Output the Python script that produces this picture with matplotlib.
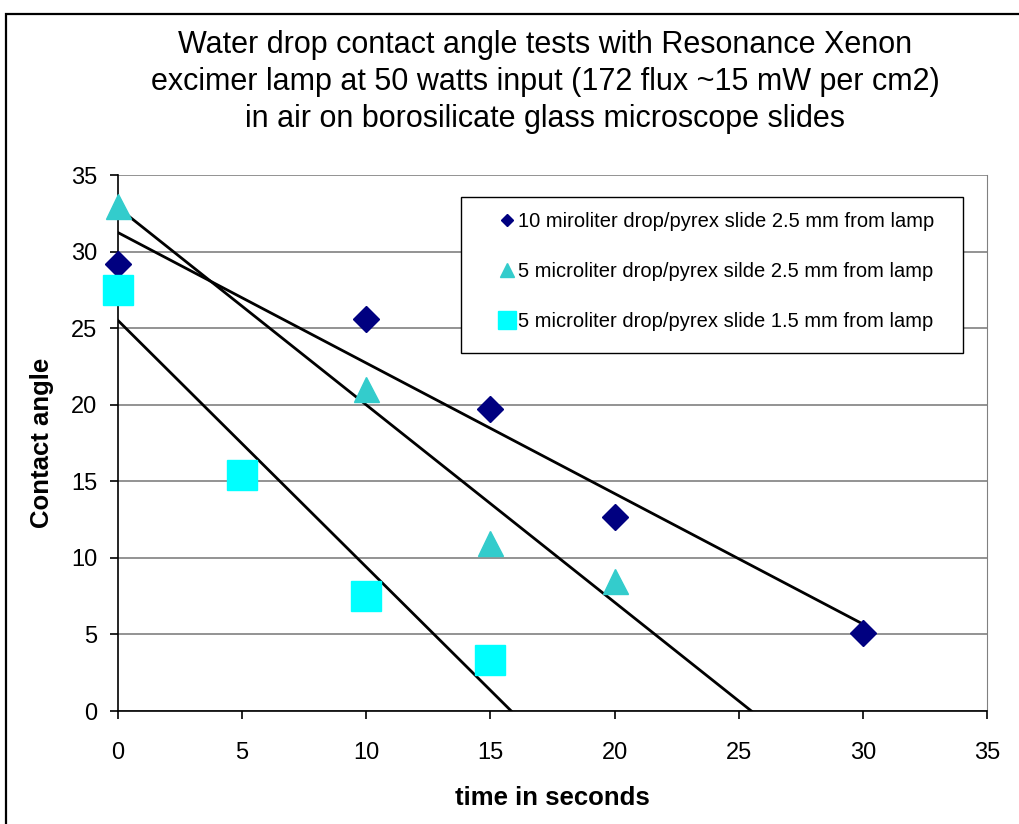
import matplotlib
matplotlib.use("Agg")
import matplotlib.pyplot as plt
from matplotlib.lines import Line2D
from matplotlib.patches import Rectangle
import numpy as np

plt.rcParams["font.family"] = ["Liberation Sans", "DejaVu Sans"]

# ---- data ----
t_10ul_25 = [0, 10, 15, 20, 30]
ang_10ul_25 = [29.2, 25.6, 19.7, 12.7, 5.1]
t_5ul_25 = [0, 10, 15, 20]
ang_5ul_25 = [33.0, 21.0, 11.0, 8.5]
t_5ul_15 = [0, 5, 10, 15]
ang_5ul_15 = [27.5, 15.4, 7.5, 3.3]

labels = ["10 miroliter drop/pyrex slide 2.5 mm from lamp",
          "5 microliter drop/pyrex silde 2.5 mm from lamp",
          "5 microliter drop/pyrex slide 1.5 mm from lamp"]
title = ("Water drop contact angle tests with Resonance Xenon\n"
         "excimer lamp at 50 watts input (172 flux ~15 mW per cm2)\n"
         "in air on borosilicate glass microscope slides")

C_NAVY = "#000080"
C_TEAL = "#33CCCC"
C_CYAN = "#00FFFF"

fig = plt.figure(figsize=(10.2, 8.24), dpi=100)
# outer chart frame (runs off the right/bottom edge like the screenshot)
fig.patches.append(Rectangle((6 / 1020, -0.1), 1.2, (824 - 14) / 824 + 0.1,
                             transform=fig.transFigure, fill=False,
                             edgecolor="black", lw=1.6))

ax = fig.add_axes([118 / 1020, 1 - 711 / 824, (987 - 118) / 1020, (711 - 175) / 824])
ax.set_xlim(0, 35)
ax.set_ylim(0, 35)
ax.set_xticks(range(0, 36, 5))
ax.set_yticks(range(0, 36, 5))
ax.yaxis.grid(True, color="#808080", lw=1.2)
ax.set_axisbelow(True)
ax.spines["top"].set_visible(False)
ax.spines["right"].set_color("#808080")
ax.spines["left"].set_linewidth(1.2)
ax.spines["bottom"].set_linewidth(1.2)
ax.tick_params(direction="out", length=6, width=1.2, labelsize=17)
ax.tick_params(axis="x", pad=16)
ax.tick_params(axis="y", pad=9)

# linear trendlines (least squares, as in the spreadsheet)
series = [(t_10ul_25, ang_10ul_25, 30), (t_5ul_25, ang_5ul_25, 35), (t_5ul_15, ang_5ul_15, 35)]
for xs, ys, xend in series:
    k, b = np.polyfit(xs, ys, 1)
    xx = np.array([0, xend])
    ax.plot(xx, k * xx + b, color="black", lw=2, zorder=2)

ax.plot(t_10ul_25, ang_10ul_25, ls="none", marker="D", ms=13.5, color=C_NAVY,
        mec=C_NAVY, zorder=3, clip_on=False)
ax.plot(t_5ul_25, ang_5ul_25, ls="none", marker="^", ms=18, color=C_TEAL,
        mec=C_TEAL, zorder=3, clip_on=False)
ax.plot(t_5ul_15, ang_5ul_15, ls="none", marker="s", ms=21, color=C_CYAN,
        mec=C_CYAN, zorder=3, clip_on=False)

# legend: frame drawn separately so the padding matches the original box
ax.add_patch(Rectangle((0.3947, 0.668), 0.9724 - 0.3947, 0.959 - 0.668,
                       transform=ax.transAxes, facecolor="white",
                       edgecolor="black", lw=1.0, zorder=4, clip_on=False))
handles = [Line2D([], [], ls="none", marker="D", ms=6.5, color=C_NAVY),
           Line2D([], [], ls="none", marker="^", ms=10, color=C_TEAL),
           Line2D([], [], ls="none", marker="s", ms=12.5, color=C_CYAN)]
leg = ax.legend(handles, labels, loc="upper left", frameon=False,
                bbox_to_anchor=(0.4315, 0.931), borderaxespad=0, borderpad=0,
                fontsize=14.5, labelspacing=1.55, handlelength=1.4,
                handletextpad=-0.15)
leg.set_zorder(5)

ax.set_xlabel("time in seconds", fontsize=18.5, fontweight="bold", labelpad=16)
ax.set_ylabel("Contact angle", fontsize=18.5, fontweight="bold", labelpad=12)

fig.text(545 / 1020, 1 - 82 / 824, title, ha="center", va="center",
         fontsize=22, linespacing=1.29)

fig.savefig("out.png", dpi=100)
